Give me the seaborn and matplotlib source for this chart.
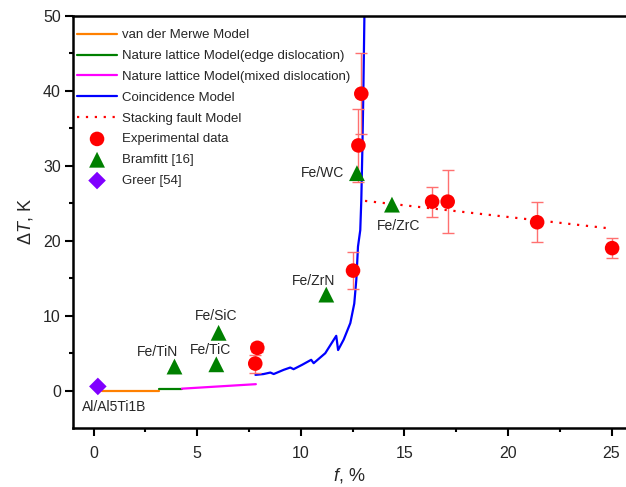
import matplotlib
matplotlib.use("Agg")
import matplotlib.pyplot as plt
import seaborn as sns

# --- model curves ---
merwe_f = [0.4, 3.13]
merwe_dT = [0.0, 0.0]

edge_f = [3.13, 4.26]
edge_dT = [0.25, 0.25]

mixed_f = [4.26, 7.83]
mixed_dT = [0.25, 0.85]

coin_f = [7.81, 8.2, 8.53, 8.69, 9.17, 9.49, 9.65, 10.06, 10.5, 10.62, 11.18, 11.71,
          11.8, 12.07, 12.39, 12.58, 12.68, 12.76, 12.87, 12.92, 12.97, 13.02, 13.07, 13.1]
coin_dT = [2.09, 2.2, 2.4, 2.2, 2.76, 3.07, 2.85, 3.43, 4.1, 3.65, 4.98, 7.3,
           5.4, 6.8, 9.0, 11.6, 14.8, 19.2, 21.4, 25.4, 32.0, 40.0, 50.0, 55.0]

stack_f = [13.1, 25.0]
stack_dT = [25.3, 21.6]

# --- measured points ---
exp_f = [7.8, 7.9, 12.52, 12.78, 12.92, 16.34, 17.09, 21.41, 25.03]
exp_dT = [3.6, 5.7, 16.0, 32.7, 39.6, 25.2, 25.2, 22.45, 19.0]
exp_err = [1.2, 0.6, 2.5, 4.9, 5.4, 2.0, 4.2, 2.65, 1.35]

bram_f = [3.9, 6.03, 5.92, 11.23, 12.71, 14.4]
bram_dT = [3.2, 7.7, 3.5, 12.8, 29.0, 24.8]
bram_names = ["Fe/TiN", "Fe/SiC", "Fe/TiC", "Fe/ZrN", "Fe/WC", "Fe/ZrC"]

greer_f = [0.2]
greer_dT = [0.55]
greer_names = ["Al/Al5Ti1B"]

sns.set_style("ticks")
plt.rcParams["font.family"] = ["Liberation Sans", "DejaVu Sans"]
plt.rcParams["mathtext.fontset"] = "custom"
plt.rcParams["mathtext.rm"] = "Liberation Sans"
plt.rcParams["mathtext.it"] = "Liberation Sans:italic"

fig = plt.figure(figsize=(6.26, 4.87), dpi=100)
ax = fig.add_axes([0.1166, 0.1211, 0.8834, 0.8466])

lw = 1.6
sns.lineplot(x=merwe_f, y=merwe_dT, ax=ax, color="#FF8000", lw=lw, sort=False,
             estimator=None, label="van der Merwe Model")
sns.lineplot(x=edge_f, y=edge_dT, ax=ax, color="#008000", lw=lw, sort=False,
             estimator=None, label="Nature lattice Model(edge dislocation)")
sns.lineplot(x=mixed_f, y=mixed_dT, ax=ax, color="#FF00FF", lw=lw, sort=False,
             estimator=None, label="Nature lattice Model(mixed dislocation)")
sns.lineplot(x=coin_f, y=coin_dT, ax=ax, color="#0000FF", lw=lw, sort=False,
             estimator=None, label="Coincidence Model")
sns.lineplot(x=stack_f, y=stack_dT, ax=ax, color="#FF0000", lw=lw, sort=False,
             estimator=None, label="Stacking fault Model", linestyle=(0, (1, 3)))

ax.errorbar(exp_f, exp_dT, yerr=exp_err, fmt="none", ecolor="#FF7070",
            elinewidth=1.0, capsize=4, capthick=1.0, zorder=3)
sns.scatterplot(x=exp_f, y=exp_dT, ax=ax, color="#FF0000", marker="o", s=110,
                edgecolor="none", label="Experimental data", zorder=4)
sns.scatterplot(x=bram_f, y=bram_dT, ax=ax, color="#008000", marker="^", s=130,
                edgecolor="none", label="Bramfitt [16]", zorder=4)
sns.scatterplot(x=greer_f, y=greer_dT, ax=ax, color="#8000FF", marker="D", s=80,
                edgecolor="none", label="Greer [54]", zorder=4)

# labels for the reference systems
offsets = {
    "Fe/TiN": (-0.8, 2.0),
    "Fe/SiC": (-0.1, 2.3),
    "Fe/TiC": (-0.3, 1.9),
    "Fe/ZrN": (-0.6, 1.8),
    "Fe/WC": (-1.65, 0.0),
    "Fe/ZrC": (0.3, -2.9),
}
for f, dT, name in zip(bram_f, bram_dT, bram_names):
    dx, dy = offsets[name]
    ax.text(f + dx, dT + dy, name, ha="center", va="center", fontsize=10)
ax.text(greer_f[0] + 0.8, greer_dT[0] - 2.75, greer_names[0], ha="center",
        va="center", fontsize=10)

ax.set_xlim(-1, 25.7)
ax.set_ylim(-5, 50)
ax.set_xticks([0, 5, 10, 15, 20, 25])
ax.set_xticks([2.5, 7.5, 12.5, 17.5, 22.5], minor=True)
ax.set_yticks([0, 10, 20, 30, 40, 50])
ax.set_yticks([5, 15, 25, 35, 45], minor=True)
ax.tick_params(axis="both", which="major", length=5.8, width=1.5, labelsize=11.5,
               direction="out", color="black")
ax.tick_params(axis="both", which="minor", length=3, width=1.5, direction="out",
               color="black")
ax.tick_params(axis="x", which="major", pad=7)
ax.tick_params(axis="y", which="major", pad=3)
for side in ["left", "bottom", "top"]:
    ax.spines[side].set_linewidth(1.8)
    ax.spines[side].set_color("black")
ax.spines["right"].set_visible(False)

ax.set_xlabel(r"$\it{f}$, %", fontsize=13, labelpad=4)
ax.set_ylabel(r"Δ$\it{T}$, K", fontsize=13, labelpad=6)

handles, labels = ax.get_legend_handles_labels()
ax.legend(handles, labels, loc="upper left", bbox_to_anchor=(-0.009, 0.99),
          frameon=False, fontsize=9.5, handlelength=3.0, handletextpad=0.4,
          labelspacing=0.65, borderaxespad=0.4, borderpad=0.3)

fig.savefig("out.png", dpi=100)
